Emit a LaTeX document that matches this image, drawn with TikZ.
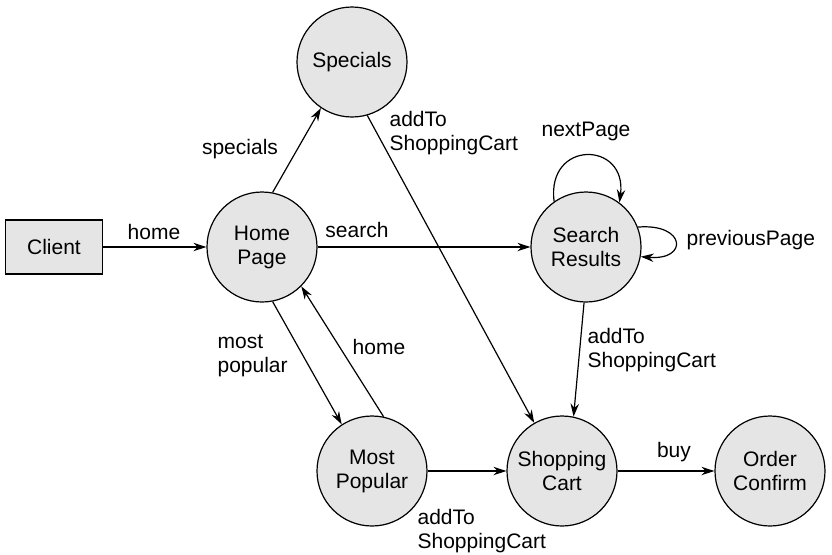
\documentclass[tikz,border=0pt]{standalone}
\usepackage{fontspec}
\setmainfont{Liberation Sans}
\usepackage{xcolor}
\usetikzlibrary{arrows.meta}
\definecolor{wfgray}{rgb}{0.90,0.90,0.90}

\begin{document}
\begin{tikzpicture}[
  x=0.5pt, y=-0.5pt, line width=0.6pt,
  font=\fontsize{10.5}{12}\selectfont,
  webpage/.style={circle, draw, fill=wfgray, minimum size=55pt, inner sep=0pt,
                  align=center},
  actor/.style={draw, fill=wfgray, minimum width=48.5pt, minimum height=27pt},
  lbl/.style={align=left, inner sep=0pt},
  flow/.style={-{Stealth[length=6.5pt,width=4.2pt]}}
]
\useasboundingbox (0,0) rectangle (832,554);

\node[actor]   (client)  at (54,247)  {Client};
\node[webpage] (home)    at (262,247) {Home\\Page};
\node[webpage] (special) at (352,62)  {Specials};
\node[webpage] (search)  at (586,247) {Search\\Results};
\node[webpage] (popular) at (372,471) {Most\\Popular};
\node[webpage] (cart)    at (562,471) {Shopping\\Cart};
\node[webpage] (order)   at (770,471) {Order\\Confirm};

\node[lbl] (l-home)    at (154,232) {home};
\node[lbl] (l-special) at (240,149) {specials};
\node[lbl, anchor=west] (l-spcart) at (389,133) {addTo\\ShoppingCart};
\node[lbl] (l-search)  at (357,230) {search};
\node[lbl] (l-next)    at (586,131) {nextPage};
\node[lbl, anchor=west] (l-prev)   at (686,240) {previousPage};
\node[lbl, anchor=west] (l-srcart) at (587,350) {addTo\\ShoppingCart};
\node[lbl, anchor=west] (l-most)   at (217,356) {most\\popular};
\node[lbl] (l-back)    at (379,347) {home};
\node[lbl, anchor=west] (l-mpcart) at (417,531) {addTo\\ShoppingCart};
\node[lbl] (l-buy)     at (674,452) {buy};

\draw[flow] (client) -- (home);
\draw[flow] (home.79) -- (special.236);
\draw[flow] (special.286) -- (cart.120);
\draw[flow] (home) -- (search);
\draw[flow] (search.125) .. controls +(-8,-62) and +(8,-62) .. (search.53);
\draw[flow] (search.21) .. controls +(48,-4) and +(48,4) .. (search.350);
\draw[flow] (search.268) -- (cart.78);
\draw[flow] (home.281) -- (popular.123);
\draw[flow] (popular.78) -- (home.315);
\draw[flow] (popular) -- (cart);
\draw[flow] (cart) -- (order);
\end{tikzpicture}
\end{document}
